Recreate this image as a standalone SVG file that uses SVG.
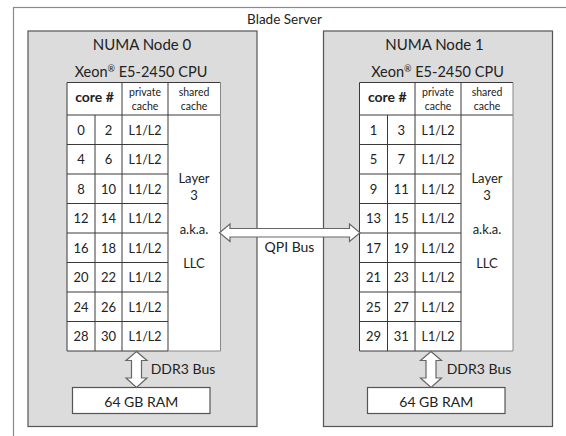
<svg xmlns="http://www.w3.org/2000/svg" width="566" height="436" viewBox="0 0 566 436">
<style>
text{font-family:Lato,"Open Sans","Liberation Sans",sans-serif;fill:#222;text-anchor:middle}
.t13{font-size:13px}
.t14{font-size:14px}
.t15{font-size:15px}
.sm{font-size:10.5px}
.b{font-weight:bold}
.l12{font-size:12.5px}
.sup{font-size:9px}
.node{fill:#dcdcdc;stroke:#555;stroke-width:1.2}
.tbl{fill:#fff;stroke:none}
.ln{stroke:#3a3a3a;stroke-width:1;fill:none}
.lt{stroke:#888;stroke-width:1;fill:none}
.arrow{fill:#fff;stroke:#666;stroke-width:1.2;stroke-linejoin:miter}
.ram{fill:#fff;stroke:#555;stroke-width:1.2}
</style>
<rect width="566" height="436" fill="#fff"/>
<g id="blade-server">
<rect x="13.5" y="7.5" width="620" height="500" fill="none" stroke="#8a8a8a" stroke-width="1.2"/>
<text x="284.5" y="24" style="font-size:13.5px">Blade Server</text>
</g>
<g id="numa-node-0">
<rect class="node" x="28" y="31" width="229" height="395.5"/>
<text class="t15" x="142" y="50">NUMA Node 0</text>
<text x="141" y="77" style="font-size:14.5px">Xeon<tspan class="sup" dy="-5">®</tspan><tspan dy="5"> E5-2450 CPU</tspan></text>
<rect class="tbl" x="67" y="82.5" width="153.5" height="268.5"/>
<path class="ln" d="M67,82.5H220.5M67,115H220.5M67,144.5H168M67,174H168M67,203.5H168M67,233H168M67,262.5H168M67,292H168M67,321.5H168M67,351H168M67,82.5V351M95,115V351M122,82.5V351M168,82.5V351"/>
<path class="lt" d="M220.5,82.5V351H168"/>
<text class="t14 b" x="94.5" y="102">core #</text>
<text class="sm" x="145" y="96">private</text>
<text class="sm" x="145" y="109.5">cache</text>
<text class="sm" x="194" y="96">shared</text>
<text class="sm" x="194" y="109.5">cache</text>
<g class="t13">
<text x="81" y="134.5">0</text><text x="108.5" y="134.5">2</text><text class="l12" x="145" y="134.5">L1/L2</text>
<text x="81" y="164">4</text><text x="108.5" y="164">6</text><text class="l12" x="145" y="164">L1/L2</text>
<text x="81" y="193.5">8</text><text x="108.5" y="193.5">10</text><text class="l12" x="145" y="193.5">L1/L2</text>
<text x="81" y="223">12</text><text x="108.5" y="223">14</text><text class="l12" x="145" y="223">L1/L2</text>
<text x="81" y="252.5">16</text><text x="108.5" y="252.5">18</text><text class="l12" x="145" y="252.5">L1/L2</text>
<text x="81" y="282">20</text><text x="108.5" y="282">22</text><text class="l12" x="145" y="282">L1/L2</text>
<text x="81" y="311.5">24</text><text x="108.5" y="311.5">26</text><text class="l12" x="145" y="311.5">L1/L2</text>
<text x="81" y="341">28</text><text x="108.5" y="341">30</text><text class="l12" x="145" y="341">L1/L2</text>
<text x="194" y="183">Layer</text><text x="194" y="200">3</text>
<text x="194" y="234">a.k.a.</text><text x="194" y="268">LLC</text>
</g>
<text class="t14" x="183" y="373.5">DDR3 Bus</text>
<rect class="ram" x="72.5" y="387.5" width="137.5" height="26"/>
<text class="t14" x="141.25" y="406.5">64 GB RAM</text>
</g>
<g id="numa-node-1">
<rect class="node" x="323.5" y="31" width="229" height="395.5"/>
<text class="t15" x="434.5" y="50">NUMA Node 1</text>
<text x="437.5" y="77" style="font-size:14.5px">Xeon<tspan class="sup" dy="-5">®</tspan><tspan dy="5"> E5-2450 CPU</tspan></text>
<rect class="tbl" x="359.5" y="82.5" width="153.5" height="268.5"/>
<path class="ln" d="M359.5,82.5H513M359.5,115H513M359.5,144.5H461M359.5,174H461M359.5,203.5H461M359.5,233H461M359.5,262.5H461M359.5,292H461M359.5,321.5H461M359.5,351H461M359.5,82.5V351M387.5,115V351M415,82.5V351M461,82.5V351"/>
<path class="lt" d="M513,82.5V351H461"/>
<text class="t14 b" x="387.25" y="102">core #</text>
<text class="sm" x="438" y="96">private</text>
<text class="sm" x="438" y="109.5">cache</text>
<text class="sm" x="487" y="96">shared</text>
<text class="sm" x="487" y="109.5">cache</text>
<g class="t13">
<text x="373.5" y="134.5">1</text><text x="401.25" y="134.5">3</text><text class="l12" x="438" y="134.5">L1/L2</text>
<text x="373.5" y="164">5</text><text x="401.25" y="164">7</text><text class="l12" x="438" y="164">L1/L2</text>
<text x="373.5" y="193.5">9</text><text x="401.25" y="193.5">11</text><text class="l12" x="438" y="193.5">L1/L2</text>
<text x="373.5" y="223">13</text><text x="401.25" y="223">15</text><text class="l12" x="438" y="223">L1/L2</text>
<text x="373.5" y="252.5">17</text><text x="401.25" y="252.5">19</text><text class="l12" x="438" y="252.5">L1/L2</text>
<text x="373.5" y="282">21</text><text x="401.25" y="282">23</text><text class="l12" x="438" y="282">L1/L2</text>
<text x="373.5" y="311.5">25</text><text x="401.25" y="311.5">27</text><text class="l12" x="438" y="311.5">L1/L2</text>
<text x="373.5" y="341">29</text><text x="401.25" y="341">31</text><text class="l12" x="438" y="341">L1/L2</text>
<text x="487" y="183">Layer</text><text x="487" y="200">3</text>
<text x="487" y="234">a.k.a.</text><text x="487" y="268">LLC</text>
</g>
<text class="t14" x="479" y="373.5">DDR3 Bus</text>
<rect class="ram" x="367.5" y="387.5" width="137.5" height="26"/>
<text class="t14" x="436.25" y="406.5">64 GB RAM</text>
</g>
<g id="connectors">
<path id="qpi-bus" class="arrow" d="M219.5,232.75L230,224V228.5H349.5V224L360,232.75L349.5,241.5V237H230V241.5Z"/>
<path id="ddr3-bus-0" class="arrow" d="M136.5,351.5L147,360.5H141.5V378H147L136.5,387.5L126,378H131.5V360.5H126Z"/>
<path id="ddr3-bus-1" class="arrow" d="M431,351.5L441.5,360.5H436V378H441.5L431,387.5L420.5,378H426V360.5H420.5Z"/>
</g>
<text class="t14" x="289.5" y="251.5">QPI Bus</text>
</svg>
